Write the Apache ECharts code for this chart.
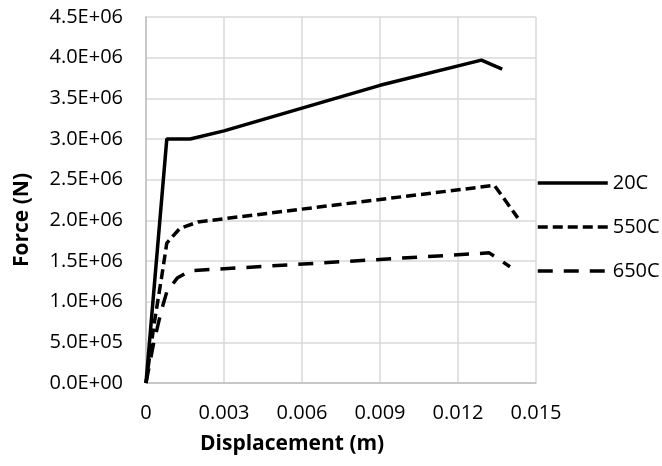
<!DOCTYPE html>
<html>
<head>
<meta charset="utf-8">
<script src="https://cdn.jsdelivr.net/npm/echarts@6/dist/echarts.min.js"></script>
<style>html,body{margin:0;padding:0;background:#fff}#c{width:662px;height:466px}</style>
</head>
<body>
<div id="c"></div>
<script>
const seriesNames = ['20C', '550C', '650C'];
const data20C = [[0,0],[0.0008,3.0e6],[0.0017,3.0e6],[0.003,3.1e6],[0.006,3.38e6],[0.009,3.66e6],[0.0129,3.97e6],[0.0137,3.86e6]];
const data550C = [[0,0],[0.0003,0.7e6],[0.0006,1.3e6],[0.0008,1.72e6],[0.0013,1.9e6],[0.002,1.98e6],[0.0134,2.43e6],[0.0143,2.03e6]];
const data650C = [[0,0],[0.0003,0.5e6],[0.0006,0.9e6],[0.0008,1.12e6],[0.0012,1.29e6],[0.0017,1.38e6],[0.0132,1.6e6],[0.014,1.43e6]];
const xTicks = [0, 0.003, 0.006, 0.009, 0.012, 0.015];
const xTitle = 'Displacement (m)';
const yTitle = 'Force (N)';

function yFmt(v) {
  if (v === 0) return '0.0E+00';
  const e = Math.floor(Math.log10(Math.abs(v)) + 1e-9);
  const m = v / Math.pow(10, e);
  return m.toFixed(1) + 'E+' + String(e).padStart(2, '0');
}
function xFmt(v) {
  if (v === 0) return '0';
  return v.toFixed(3);
}
const font = "'Open Sans', sans-serif";
const chart = echarts.init(document.getElementById('c'));
chart.setOption({
  animation: false,
  grid: { left: 146, right: 126, top: 17, bottom: 83 },
  xAxis: {
    type: 'value', min: 0, max: 0.015, interval: 0.003,
    axisLine: { show: true, lineStyle: { color: '#bfbfbf', width: 1.5 } },
    axisTick: { show: false },
    splitLine: { show: true, lineStyle: { color: '#d9d9d9', width: 1.5 } },
    axisLabel: { formatter: xFmt, fontFamily: font, fontSize: 20, color: '#000', margin: 20 }
  },
  yAxis: {
    type: 'value', min: 0, max: 4.5e6, interval: 0.5e6,
    axisLine: { show: true, lineStyle: { color: '#bfbfbf', width: 1.5 } },
    axisTick: { show: false },
    splitLine: { show: true, lineStyle: { color: '#d9d9d9', width: 1.5 } },
    axisLabel: { formatter: yFmt, fontFamily: font, fontSize: 20, color: '#000', margin: 23 }
  },
  legend: {
    orient: 'vertical', left: 536, top: 173, padding: 0, itemWidth: 70, itemHeight: 14, itemGap: 24,
    itemStyle: { opacity: 0 },
    lineStyle: { width: 3.5 },
    textStyle: { fontFamily: font, fontSize: 20, color: '#000' },
    data: seriesNames
  },
  graphic: [
    { type: 'text', left: 200, top: 434, style: { text: xTitle, fontFamily: font, fontSize: 21, fontWeight: 'bold', fill: '#000' } },
    { type: 'text', x: 12, y: 267, rotation: Math.PI / 2, style: { text: yTitle, fontFamily: font, fontSize: 21, fontWeight: 'bold', fill: '#000' } }
  ],
  series: [
    { name: seriesNames[0], type: 'line', data: data20C, symbol: 'none', lineStyle: { color: '#000', width: 3.5 } },
    { name: seriesNames[1], type: 'line', data: data550C, symbol: 'none', lineStyle: { color: '#000', width: 3.5, type: [10, 5] } },
    { name: seriesNames[2], type: 'line', data: data650C, symbol: 'none', lineStyle: { color: '#000', width: 3.5, type: [15, 11] } }
  ]
});
</script>
</body>
</html>
